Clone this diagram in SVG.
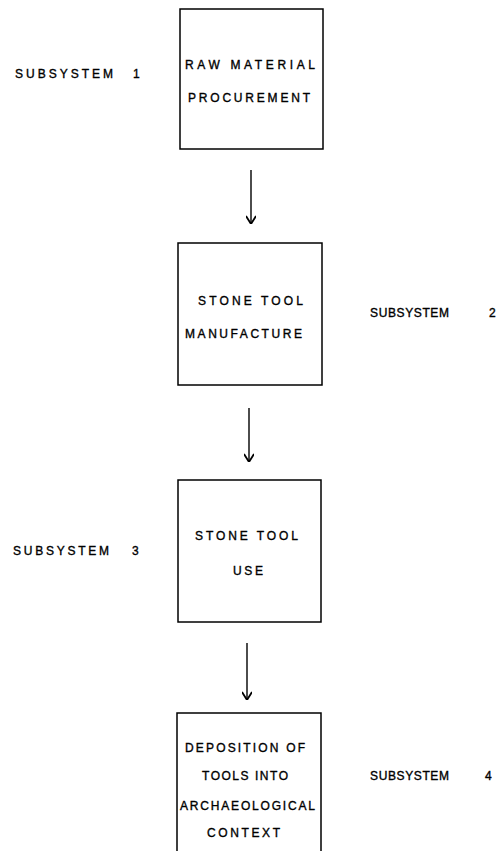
<svg xmlns="http://www.w3.org/2000/svg" width="496" height="851" viewBox="0 0 496 851">
<defs>
<marker id="ah" viewBox="0 0 10 10" refX="10" refY="5" markerWidth="10" markerHeight="10" markerUnits="userSpaceOnUse" orient="auto">
<path d="M2,0 L10,5 L2,10" fill="none" stroke="#000" stroke-width="1.8"/>
</marker>
<style>
.box{fill:#fff;stroke:#000;stroke-width:1.5}
.t{font-family:"Liberation Sans","DejaVu Sans",sans-serif;font-size:12px;fill:#000;stroke:#000;stroke-width:0.35}
.c{stroke:#000;stroke-width:1.4;fill:none}
</style>
</defs>
<rect width="496" height="851" fill="#fff"/>
<g id="labels">
<text class="t" y="78"><tspan x="15" textLength="98" lengthAdjust="spacing">SUBSYSTEM</tspan><tspan x="133">1</tspan></text>
<text class="t" y="317"><tspan x="370" textLength="79" lengthAdjust="spacing">SUBSYSTEM</tspan><tspan x="489">2</tspan></text>
<text class="t" y="555"><tspan x="13" textLength="96" lengthAdjust="spacing">SUBSYSTEM</tspan><tspan x="132">3</tspan></text>
<text class="t" y="780"><tspan x="370" textLength="79" lengthAdjust="spacing">SUBSYSTEM</tspan><tspan x="485">4</tspan></text>
</g>
<g id="n1">
<rect class="box" x="180" y="9" width="143" height="140"/>
<text class="t" x="185" y="69" textLength="130" lengthAdjust="spacing">RAW MATERIAL</text>
<text class="t" x="188" y="102" textLength="122" lengthAdjust="spacing">PROCUREMENT</text>
</g>
<g id="n2">
<rect class="box" x="178" y="243" width="144" height="142"/>
<text class="t" x="198" y="305" textLength="105" lengthAdjust="spacing">STONE TOOL</text>
<text class="t" x="185" y="338" textLength="117" lengthAdjust="spacing">MANUFACTURE</text>
</g>
<g id="n3">
<rect class="box" x="178" y="480" width="143" height="142"/>
<text class="t" x="195" y="540" textLength="103" lengthAdjust="spacing">STONE TOOL</text>
<text class="t" x="233" y="575" textLength="30" lengthAdjust="spacing">USE</text>
</g>
<g id="n4">
<path class="box" d="M177,852 V713 H321 V852"/>
<text class="t" x="185" y="752" textLength="120" lengthAdjust="spacing">DEPOSITION OF</text>
<text class="t" x="202" y="780" textLength="86" lengthAdjust="spacing">TOOLS INTO</text>
<text class="t" x="180" y="810" textLength="135" lengthAdjust="spacing">ARCHAEOLOGICAL</text>
<text class="t" x="207" y="837" textLength="73" lengthAdjust="spacing">CONTEXT</text>
</g>
<g id="connectors">
<line class="c" x1="251" y1="170" x2="251" y2="224" marker-end="url(#ah)"/>
<line class="c" x1="249" y1="408" x2="249" y2="462" marker-end="url(#ah)"/>
<line class="c" x1="247" y1="643" x2="247" y2="700" marker-end="url(#ah)"/>
</g>
</svg>
